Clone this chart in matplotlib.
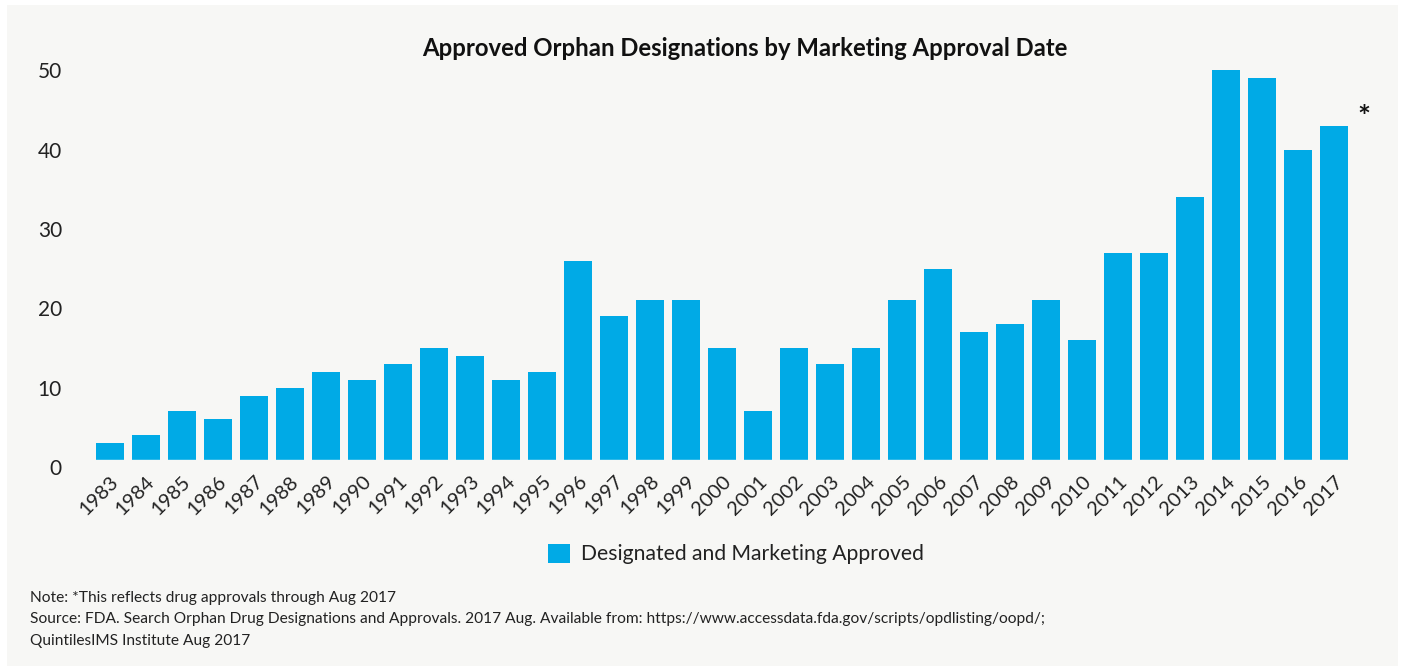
import matplotlib.pyplot as plt
from matplotlib.patches import Rectangle, Patch

plt.rcParams['font.family'] = ['Lato', 'DejaVu Sans']

# data
years = [str(y) for y in range(1983, 2018)]
approved = [3, 4, 7, 6, 9, 10, 12, 11, 13, 15, 14, 11, 12, 26, 19, 21, 21, 15, 7,
            15, 13, 15, 21, 25, 17, 18, 21, 16, 27, 27, 34, 50, 49, 40, 43]
yticks = [0, 10, 20, 30, 40, 50]

bg = '#f7f7f5'
bar_color = '#00aae6'
txt = '#222222'

W, H = 1403, 667
fig = plt.figure(figsize=(W / 100, H / 100), dpi=100, facecolor='white')
fig.patches.append(Rectangle((7 / W, 1 / H), 1391 / W, 661 / H, transform=fig.transFigure,
                             facecolor=bg, edgecolor='none', zorder=-5))

# axes placement in pixels
left_px, right_px = 80, 1360
zero_px, px_per_unit = 467, 7.934
ytop = 52
ax = fig.add_axes([left_px / W, (H - zero_px) / H, (right_px - left_px) / W,
                   ytop * px_per_unit / H])
ax.set_facecolor('none')
ax.set_zorder(2)

x = list(range(len(years)))
ax.bar(x, approved, width=0.78, color=bar_color, zorder=2,
       label='Designated and Marketing Approved')
# bars start a little above zero in the original
ax.axhspan(0, 0.85, color=bg, zorder=3)

ax.set_xlim((left_px - 110) / 36, (right_px - 110) / 36)
ax.set_ylim(0, ytop)
ax.set_yticks(yticks)
ax.set_xticks(x)
ax.set_xticklabels(years, rotation=45, ha='right', rotation_mode='anchor')
ax.tick_params(axis='y', length=0, pad=13, labelsize=15, labelcolor=txt)
ax.tick_params(axis='x', length=0, pad=4, labelsize=14.5, labelcolor=txt)
for s in ax.spines.values():
    s.set_visible(False)

fig.text(745 / W, 1 - 48 / H, 'Approved Orphan Designations by Marketing Approval Date',
         ha='center', va='center', fontsize=17.2, fontweight='bold', color='#111111')
fig.text(1364 / W, 1 - 118 / H, '*', ha='center', va='center', fontsize=22,
         fontweight='bold', color='#111111')

ax.legend(handles=[Patch(facecolor=bar_color, edgecolor='none',
                         label='Designated and Marketing Approved')],
          loc='center', bbox_to_anchor=(736 / W, 1 - 554 / H),
          bbox_transform=fig.transFigure, frameon=False, fontsize=15.2,
          handlelength=1.05, handleheight=1.05, handletextpad=0.55,
          labelcolor=txt)

notes = ['Note: *This reflects drug approvals through Aug 2017',
         'Source: FDA. Search Orphan Drug Designations and Approvals. 2017 Aug. '
         'Available from: https://www.accessdata.fda.gov/scripts/opdlisting/oopd/;',
         'QuintilesIMS Institute Aug 2017']
for i, line in enumerate(notes):
    fig.text(30 / W, 1 - (598 + 21.5 * i) / H, line, ha='left', va='center',
             fontsize=11.2, color=txt)

fig.savefig('out.png', dpi=100, facecolor='white')
